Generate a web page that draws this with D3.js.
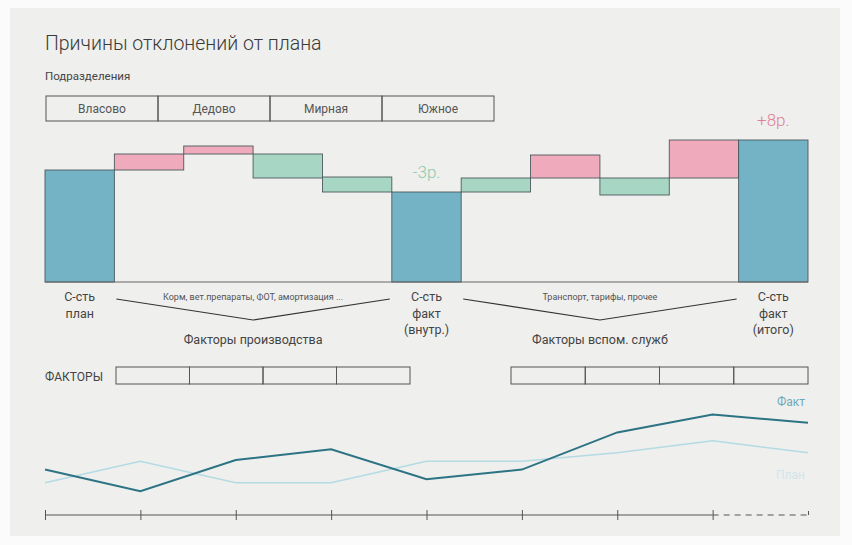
<!DOCTYPE html>
<html>
<head>
<meta charset="utf-8">
<script src="https://cdn.jsdelivr.net/npm/d3@7"></script>
<style>
  body { margin: 0; background: #fbfbfb; }
  svg { display: block; font-family: Roboto, "Noto Sans", sans-serif; }
</style>
</head>
<body>
<script>
// --- data ---
const title = 'Причины отклонений от плана'
const divisions = ['Власово', 'Дедово', 'Мирная', 'Южное']

// waterfall steps: [low, high] in rubles-ish units, type decides colour
const steps = ['plan', 'f1', 'f2', 'f3', 'f4', 'inner', 's1', 's2', 's3', 's4', 'total']
const stepLow = [0, 112, 128, 104, 90, 0, 90, 104, 87, 104, 0]
const stepHigh = [112, 128, 136, 128, 105, 90, 104, 127, 104, 142, 142]
const stepType = ['base', 'up', 'up', 'down', 'down', 'base', 'down', 'up', 'down', 'up', 'base']

const deltaLabels = [
  { step: 'inner', text: '-3р.', type: 'down' },
  { step: 'total', text: '+8р.', type: 'up' }
]

const baseLabels = [
  { step: 'plan', lines: ['С-сть', 'план'] },
  { step: 'inner', lines: ['С-сть', 'факт', '(внутр.)'] },
  { step: 'total', lines: ['С-сть', 'факт', '(итого)'] }
]
const groups = [
  { from: 'f1', to: 'f4', note: 'Корм, вет.препараты, ФОТ, амортизация ...', name: 'Факторы производства' },
  { from: 's1', to: 's4', note: 'Транспорт, тарифы, прочее', name: 'Факторы вспом. служб' }
]

// line chart (periods)
const periods = ['1', '2', '3', '4', '5', '6', '7', '8', '9']
const fact = [42, 24, 50, 59, 34, 42, 73, 88, 81]
const plan = [31, 49, 31, 31, 49, 49, 56, 66, 56]

const width = 852, height = 545
const colors = { base: '#74b3c6', up: '#efabbb', down: '#a7d7c4' }
const textColors = { up: '#df7f97', down: '#8ccab2' }

const svg = d3.select('body').append('svg').attr('width', width).attr('height', height)

svg.append('rect').attr('x', 10).attr('y', 8).attr('width', 830).attr('height', 528)
  .attr('fill', '#efefed')

svg.append('text').attr('x', 45).attr('y', 50).attr('font-size', 19.5).attr('fill', '#3a3a3a')
  .attr('font-weight', 300).text(title)
svg.append('text').attr('x', 45).attr('y', 80).attr('font-size', 11.5).attr('fill', '#444')
  .text('Подразделения')

// divisions boxes
const xDiv = d3.scaleBand().domain(divisions).range([46, 494])
const dg = svg.append('g')
dg.selectAll('rect').data(divisions).join('rect')
  .attr('x', d => xDiv(d)).attr('y', 96).attr('width', xDiv.bandwidth()).attr('height', 25)
  .attr('fill', 'none').attr('stroke', '#555').attr('stroke-width', 1)
dg.selectAll('text').data(divisions).join('text')
  .attr('x', d => xDiv(d) + xDiv.bandwidth() / 2).attr('y', 113).attr('text-anchor', 'middle')
  .attr('font-size', 12).attr('fill', '#555').text(d => d)

// waterfall
const x = d3.scaleBand().domain(steps).range([45, 808])
const y = d3.scaleLinear().domain([0, 142]).range([282, 140])

const bars = steps.map((s, i) => ({ step: s, low: stepLow[i], high: stepHigh[i], type: stepType[i] }))
svg.append('g').selectAll('rect').data(bars).join('rect')
  .attr('x', d => x(d.step)).attr('width', x.bandwidth())
  .attr('y', d => y(d.high)).attr('height', d => y(d.low) - y(d.high))
  .attr('fill', d => colors[d.type]).attr('stroke', '#4d5a5e').attr('stroke-width', 0.9)

svg.append('line').attr('x1', 45).attr('x2', 808).attr('y1', y(0)).attr('y2', y(0))
  .attr('stroke', '#666').attr('stroke-width', 1)

svg.append('g').selectAll('text').data(deltaLabels).join('text')
  .attr('x', d => x(d.step) + x.bandwidth() / 2)
  .attr('y', d => y(stepHigh[steps.indexOf(d.step)]) - 14)
  .attr('text-anchor', 'middle').attr('font-size', 17).attr('font-weight', 300)
  .attr('fill', d => textColors[d.type]).text(d => d.text)

const bl = svg.append('g').selectAll('text').data(baseLabels).join('text')
  .attr('text-anchor', 'middle').attr('font-size', 12.5).attr('fill', '#444')
bl.selectAll('tspan').data(d => d.lines.map((l, i) => ({ l, i, step: d.step }))).join('tspan')
  .attr('x', d => x(d.step) + x.bandwidth() / 2).attr('y', d => 301 + d.i * 16.5).text(d => d.l)

groups.forEach(g => {
  const x0 = x(g.from), x1 = x(g.to) + x.bandwidth(), xm = (x0 + x1) / 2
  svg.append('text').attr('x', xm).attr('y', 300).attr('text-anchor', 'middle')
    .attr('font-size', 9).attr('fill', '#555').text(g.note)
  svg.append('path').attr('d', d3.line()([[x0 + 2, 299], [xm, 320], [x1 - 2, 299]]))
    .attr('fill', 'none').attr('stroke', '#333').attr('stroke-width', 1.2)
  svg.append('text').attr('x', xm).attr('y', 344).attr('text-anchor', 'middle')
    .attr('font-size', 12.5).attr('fill', '#444').text(g.name)
})

// factor boxes
svg.append('text').attr('x', 45).attr('y', 381).attr('font-size', 12).attr('fill', '#444').text('ФАКТОРЫ')
groups.forEach((g, gi) => {
  const cells = d3.range(4)
  const xs = d3.scaleBand().domain(cells).range(gi === 0 ? [116, 410] : [511, 808])
  svg.append('g').selectAll('rect').data(cells).join('rect')
    .attr('x', d => xs(d)).attr('y', 367).attr('width', xs.bandwidth()).attr('height', 17)
    .attr('fill', 'none').attr('stroke', '#555').attr('stroke-width', 1)
})

// line chart
const xl = d3.scalePoint().domain(periods).range([45, 808])
const yl = d3.scaleLinear().domain([0, 100]).range([520, 400])
const line = d3.line().x((d, i) => xl(periods[i])).y(d => yl(d))

svg.append('path').datum(plan).attr('d', line).attr('fill', 'none')
  .attr('stroke', '#b3dbe4').attr('stroke-width', 1.5)
svg.append('path').datum(fact).attr('d', line).attr('fill', 'none')
  .attr('stroke', '#2c7384').attr('stroke-width', 2)

svg.append('text').attr('x', 805).attr('y', 406).attr('text-anchor', 'end')
  .attr('font-size', 12).attr('fill', '#6fa9bb').text('Факт')
svg.append('text').attr('x', 805).attr('y', 479).attr('text-anchor', 'end')
  .attr('font-size', 12).attr('fill', '#cfe5ec').text('План')

const axisY = 515
const xa = svg.append('g').attr('transform', `translate(0,${axisY})`)
  .call(d3.axisBottom(xl).tickSize(0).tickFormat(''))
xa.select('.domain').remove()
xa.append('line').attr('x1', 45).attr('x2', xl('8')).attr('stroke', '#555')
xa.append('line').attr('x1', xl('8')).attr('x2', 808).attr('stroke', '#555').attr('stroke-dasharray', '6,5')
xa.selectAll('.tick line').attr('y1', -5).attr('y2', 5).attr('stroke', '#555')
xa.selectAll('.tick').filter(d => d === '9').select('line').attr('y1', -4).attr('y2', 0)
</script>
</body>
</html>
